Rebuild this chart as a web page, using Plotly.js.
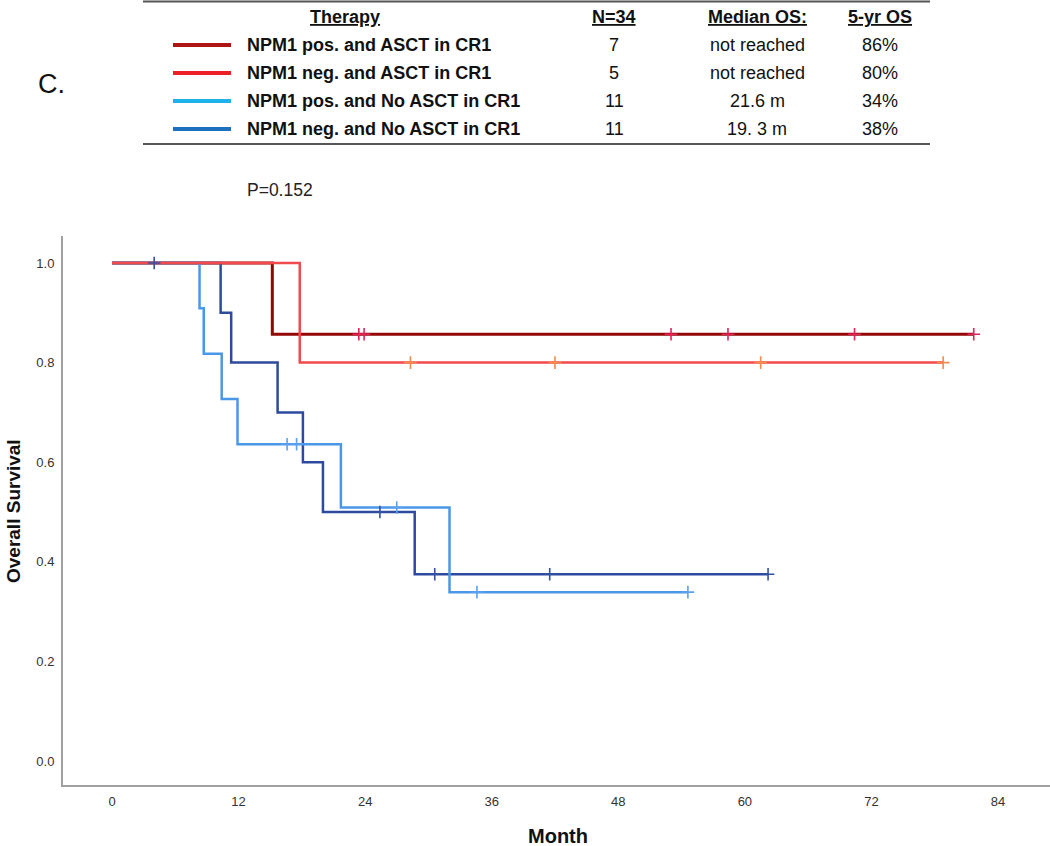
<!DOCTYPE html>
<html>
<head>
<meta charset="utf-8">
<script src="https://cdn.plot.ly/plotly-3.0.1.min.js"></script>
<style>html,body{margin:0;padding:0;background:#fff;}#chart{width:1050px;height:846px;}</style>
</head>
<body>
<div id="chart"></div>
<script>
// ---- Data ----
const groupNames = ["NPM1 pos. and ASCT in CR1", "NPM1 neg. and ASCT in CR1", "NPM1 pos. and No ASCT in CR1", "NPM1 neg. and No ASCT in CR1"];
const groupN = ["7", "5", "11", "11"];
const groupMedian = ["not reached", "not reached", "21.6 m", "19. 3 m"];
const group5yr = ["86%", "80%", "34%", "38%"];
const headerLabels = ["Therapy", "N=34", "Median OS:", "5-yr OS"];
const pValueText = "P=0.152";
const panelLabel = "C.";

// Kaplan-Meier step points (month, survival)
const posAsctT = [0, 15.2, 81.7];
const posAsctS = [1.0, 0.857, 0.857];
const posAsctCensT = [23.4, 23.9, 53.0, 58.4, 70.4, 81.7];
const posAsctCensS = [0.857, 0.857, 0.857, 0.857, 0.857, 0.857];

const negAsctT = [0, 17.8, 78.8];
const negAsctS = [1.0, 0.8, 0.8];
const negAsctCensT = [28.3, 42.0, 61.5, 78.8];
const negAsctCensS = [0.8, 0.8, 0.8, 0.8];

const posNoT = [0, 8.3, 8.7, 10.4, 11.9, 21.7, 32.0, 54.6];
const posNoS = [1.0, 0.909, 0.818, 0.727, 0.636, 0.509, 0.339, 0.339];
const posNoCensT = [16.6, 17.5, 27.0, 34.6, 54.6];
const posNoCensS = [0.636, 0.636, 0.509, 0.339, 0.339];

const negNoT = [0, 10.3, 11.3, 15.7, 18.1, 20.0, 28.7, 62.2];
const negNoS = [1.0, 0.9, 0.8, 0.7, 0.6, 0.5, 0.375, 0.375];
const negNoCensT = [4.0, 25.4, 30.6, 41.5, 62.2];
const negNoCensS = [1.0, 0.5, 0.375, 0.375, 0.375];

const xTicks = [0, 12, 24, 36, 48, 60, 72, 84];
const yTicks = [0.0, 0.2, 0.4, 0.6, 0.8, 1.0];
const yTickText = ["0.0", "0.2", "0.4", "0.6", "0.8", "1.0"];

// ---- Styles ----
const lineColors = ["#920707", "#F24A4C", "#4A97E8", "#2D4B9E"];
const censorColors = ["#E0245A", "#F58A4A", "#5AA2F0", "#33519F"];
const tableColors = ["#B01515", "#EE2027", "#1DB2EA", "#1B70C0"];
const lineWidths = [3, 2.5, 2.5, 2.5];

const W = 1050, H = 846;
const M = {l: 63, r: 0, t: 236, b: 61};
const PW = W - M.l - M.r, PH = H - M.t - M.b;
const px = x => (x - M.l) / PW;
const py = y => (H - M.b - y) / PH;

const curves = [
  [posAsctT, posAsctS, posAsctCensT, posAsctCensS],
  [negAsctT, negAsctS, negAsctCensT, negAsctCensS],
  [posNoT, posNoS, posNoCensT, posNoCensS],
  [negNoT, negNoS, negNoCensT, negNoCensS]
];
const order = [0, 3, 2, 1];
const traces = [];
order.forEach(i => {
  const c = curves[i];
  traces.push({x: c[0], y: c[1], type: 'scatter', mode: 'lines', line: {shape: 'hv', color: lineColors[i], width: lineWidths[i]}, name: groupNames[i], hoverinfo: 'skip'});
});
order.forEach(i => {
  const c = curves[i];
  traces.push({x: c[2], y: c[3], type: 'scatter', mode: 'markers', marker: {symbol: 'cross-thin-open', size: 9, color: censorColors[i], line: {color: censorColors[i], width: 1.6}}, name: groupNames[i] + ' censored', hoverinfo: 'skip'});
});

const tf = "'Liberation Sans', Arial, sans-serif";
const annotations = [];
const shapes = [];
const colX = [345, 614, 757, 880];
const rowY = [45, 73, 101, 129];
headerLabels.forEach((h, j) => {
  annotations.push({xref: 'paper', yref: 'paper', x: px(colX[j]), y: py(17), xanchor: 'center', yanchor: 'middle', showarrow: false, text: '<b><u>' + h + '</u></b>', font: {family: tf, size: 18, color: '#111'}});
});
groupNames.forEach((g, i) => {
  shapes.push({type: 'line', xref: 'paper', yref: 'paper', x0: px(173), x1: px(231), y0: py(rowY[i]), y1: py(rowY[i]), line: {color: tableColors[i], width: 4}});
  annotations.push({xref: 'paper', yref: 'paper', x: px(245), y: py(rowY[i]), xanchor: 'left', yanchor: 'middle', showarrow: false, text: '<b>' + g + '</b>', font: {family: tf, size: 18, color: '#111'}});
  annotations.push({xref: 'paper', yref: 'paper', x: px(colX[1]), y: py(rowY[i]), xanchor: 'center', yanchor: 'middle', showarrow: false, text: groupN[i], font: {family: tf, size: 18, color: '#111'}});
  annotations.push({xref: 'paper', yref: 'paper', x: px(colX[2]), y: py(rowY[i]), xanchor: 'center', yanchor: 'middle', showarrow: false, text: groupMedian[i], font: {family: tf, size: 18, color: '#111'}});
  annotations.push({xref: 'paper', yref: 'paper', x: px(colX[3]), y: py(rowY[i]), xanchor: 'center', yanchor: 'middle', showarrow: false, text: group5yr[i], font: {family: tf, size: 18, color: '#111'}});
});
shapes.push({type: 'line', xref: 'paper', yref: 'paper', x0: px(143), x1: px(930), y0: py(1.5), y1: py(1.5), line: {color: '#555', width: 2}});
shapes.push({type: 'line', xref: 'paper', yref: 'paper', x0: px(143), x1: px(930), y0: py(144), y1: py(144), line: {color: '#555', width: 2}});

annotations.push({xref: 'paper', yref: 'paper', x: px(36), y: py(84), xanchor: 'left', yanchor: 'middle', showarrow: false, text: panelLabel, font: {family: tf, size: 27, color: '#111'}});
annotations.push({xref: 'paper', yref: 'paper', x: px(245), y: py(190), xanchor: 'left', yanchor: 'middle', showarrow: false, text: pValueText, font: {family: tf, size: 17.5, color: '#222'}});
annotations.push({xref: 'paper', yref: 'paper', x: px(13), y: py(511), xanchor: 'center', yanchor: 'middle', showarrow: false, textangle: -90, text: '<b>Overall Survival</b>', font: {family: tf, size: 19, color: '#111'}});
annotations.push({xref: 'paper', yref: 'paper', x: px(558), y: py(836), xanchor: 'center', yanchor: 'middle', showarrow: false, text: '<b>Month</b>', font: {family: tf, size: 20, color: '#111'}});

const layout = {
  width: W, height: H,
  margin: M,
  paper_bgcolor: '#fff', plot_bgcolor: '#fff',
  showlegend: false,
  xaxis: {range: [-4.645, 88.93], tickvals: xTicks, ticktext: xTicks.map(String), showgrid: false, zeroline: false, showline: true, linecolor: '#a0a0a0', linewidth: 2, ticks: '', ticklabelstandoff: 3, tickfont: {family: tf, size: 13, color: '#333'}, fixedrange: true},
  yaxis: {range: [-0.0482, 1.0542], tickvals: yTicks, ticktext: yTickText, showgrid: false, zeroline: false, showline: true, linecolor: '#a0a0a0', linewidth: 2, ticks: '', ticklabelstandoff: 4, tickfont: {family: tf, size: 13, color: '#333'}, fixedrange: true},
  annotations: annotations,
  shapes: shapes
};
Plotly.newPlot('chart', traces, layout, {staticPlot: true, displayModeBar: false});
</script>
</body>
</html>
